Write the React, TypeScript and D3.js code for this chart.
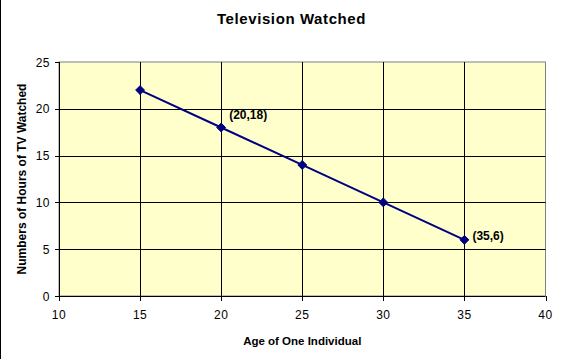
import React from "react";
import * as d3 from "d3";

const ages = [15, 20, 25, 30, 35];
const hours = [22, 18, 14, 10, 6];
const labeledAges = [20, 35];
const xTicks = [10, 15, 20, 25, 30, 35, 40];
const yTicks = [0, 5, 10, 15, 20, 25];
const title = "Television Watched";
const xTitle = "Age of One Individual";
const yTitle = "Numbers of Hours of TV Watched";

const W = 564;
const H = 359;
const left = 59;
const right = 545.5;
const top = 62;
const bottom = 296;
const font = "'Liberation Sans', Arial, sans-serif";
const labelDy: Record<number, number> = { 20: -9, 35: 0 };

export default function App() {
  const x = d3.scaleLinear().domain([10, 40]).range([left, right]);
  const y = d3.scaleLinear().domain([0, 25]).range([bottom, top]);
  const data = ages.map((a, i) => ({ a, h: hours[i] }));
  const line = d3
    .line<{ a: number; h: number }>()
    .x((d) => x(d.a))
    .y((d) => y(d.h));
  const diamond = d3.symbol().type(d3.symbolDiamond2).size(50)();
  return (
    <svg
      width={W}
      height={H}
      style={{ position: "absolute", left: 0, top: 0, background: "#fff" }}
      fontFamily={font}
    >
      <rect x={0} y={0} width={W} height={H} fill="#fff" />
      <line x1={0.5} y1={0} x2={0.5} y2={H} stroke="#000" strokeWidth={1} />
      <text x={291.5} y={24} textAnchor="middle" fontSize={15} fontWeight="bold" letterSpacing={0.6}>
        {title}
      </text>
      <rect
        x={left}
        y={top}
        width={right - left}
        height={bottom - top}
        fill="#FFFFCC"
        stroke="#808080"
        strokeWidth={1}
      />
      {yTicks
        .filter((t) => t > 0 && t < 25)
        .map((t) => (
          <line key={"gy" + t} x1={left} x2={right} y1={Math.round(y(t)) + 0.5} y2={Math.round(y(t)) + 0.5} stroke="#000" />
        ))}
      {xTicks
        .filter((t) => t > 10 && t < 40)
        .map((t) => (
          <line key={"gx" + t} y1={top} y2={bottom} x1={Math.round(x(t)) + 0.5} x2={Math.round(x(t)) + 0.5} stroke="#000" />
        ))}
      <line x1={left + 0.5} x2={left + 0.5} y1={top} y2={bottom + 0.5} stroke="#000" />
      <line x1={left} x2={right} y1={bottom + 0.5} y2={bottom + 0.5} stroke="#000" />
      {yTicks.map((t) => (
        <g key={"ty" + t}>
          <line x1={left - 4} x2={left} y1={Math.round(y(t)) + 0.5} y2={Math.round(y(t)) + 0.5} stroke="#000" />
          <text x={left - 9} y={y(t) + 4.5} textAnchor="end" fontSize={12} letterSpacing={0.5}>
            {t}
          </text>
        </g>
      ))}
      {xTicks.map((t) => (
        <g key={"tx" + t}>
          <line x1={Math.round(x(t)) + 0.5} x2={Math.round(x(t)) + 0.5} y1={bottom} y2={bottom + 5} stroke="#000" />
          <text x={x(t)} y={bottom + 23} textAnchor="middle" fontSize={12} letterSpacing={0.5}>
            {t}
          </text>
        </g>
      ))}
      <text x={(left + right) / 2} y={345} textAnchor="middle" fontSize={11.5} fontWeight="bold">
        {xTitle}
      </text>
      <text
        transform={`translate(26,${(top + bottom) / 2}) rotate(-90)`}
        textAnchor="middle"
        fontSize={12}
        fontWeight="bold"
      >
        {yTitle}
      </text>
      <path d={line(data) || ""} fill="none" stroke="#000080" strokeWidth={2} />
      {data.map((d) => (
        <path key={"m" + d.a} d={diamond || ""} transform={`translate(${x(d.a)},${y(d.h)})`} fill="#000080" stroke="#000080" />
      ))}
      {data
        .filter((d) => labeledAges.includes(d.a))
        .map((d) => (
          <text key={"l" + d.a} x={x(d.a) + 8} y={y(d.h) + labelDy[d.a]} fontSize={12} fontWeight="bold">
            {`(${d.a},${d.h})`}
          </text>
        ))}
    </svg>
  );
}
